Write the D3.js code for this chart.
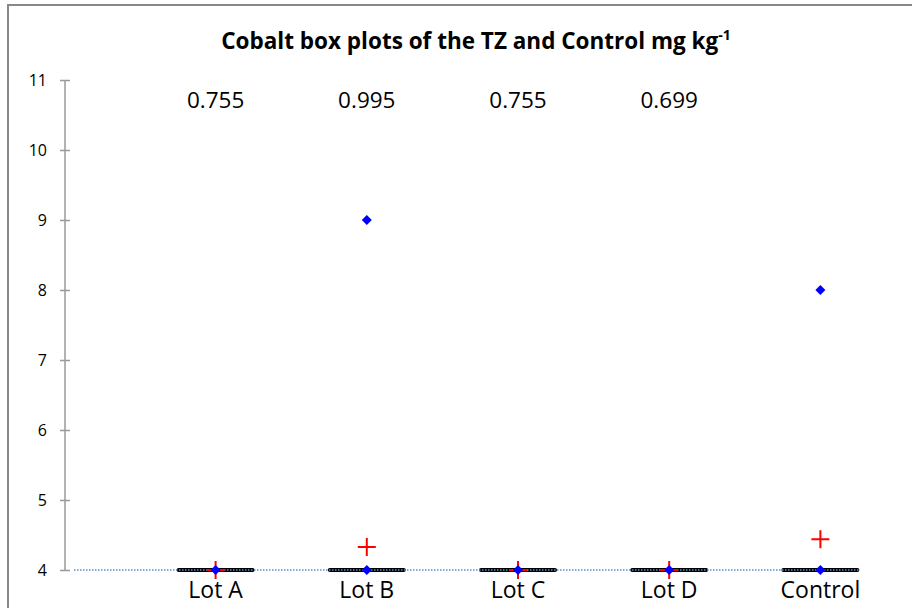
<!DOCTYPE html>
<html><head><meta charset="utf-8">
<script src="https://cdn.jsdelivr.net/npm/d3@7"></script>
<style>body{margin:0;background:#fff}svg{display:block}text{font-family:"Open Sans",sans-serif}</style>
</head><body><svg id="c" width="912" height="608"></svg>
<script>
const categories = ["Lot A","Lot B","Lot C","Lot D","Control"];
const boxMin = [4,4,4,4,4];
const boxQ1 = [4,4,4,4,4];
const boxMedian = [4,4,4,4,4];
const boxQ3 = [4,4,4,4,4];
const boxMax = [4,4,4,4,4];
const means = [4,4.33,4,4,4.44];
const outliers = [[],[9],[],[],[8]];
const topLabels = ["0.755","0.995","0.755","0.699",""];
const yTicks = [4,5,6,7,8,9,10,11];

const svg = d3.select("#c");
svg.append("rect").attr("x",8).attr("y",5).attr("width",920).attr("height",620)
  .attr("fill","none").attr("stroke","#888").attr("stroke-width",2);

const x = d3.scaleBand().domain(categories).range([140,896]);
const y = d3.scaleLinear().domain([4,11]).range([570,80]);
const cx = c => x(c)+x.bandwidth()/2;

// y axis
const ax = svg.append("g").attr("transform","translate(65,0)")
  .call(d3.axisLeft(y).tickValues(yTicks).tickSize(5).tickFormat(d3.format("d")));
ax.select(".domain").attr("stroke","#999").attr("stroke-width",1.5).attr("d","M0,"+y(11)+"V"+y(4));
ax.selectAll(".tick line").attr("stroke","#999").attr("stroke-width",1.5).attr("x1",-5).attr("x2",5);
ax.selectAll(".tick text").attr("x",-18).attr("font-size",16).attr("fill","#000")
  .attr("font-family","Open Sans, sans-serif");

// boxes (collapsed)
const half = 39;
categories.forEach((c,i)=>{
  const g = svg.append("g");
  g.append("rect").attr("x",cx(c)-half).attr("width",2*half)
    .attr("y",y(boxQ3[i])-2).attr("height",Math.max(4,y(boxQ1[i])-y(boxQ3[i])+4))
    .attr("fill","#000").attr("rx",2);
  g.append("line").attr("x1",cx(c)).attr("x2",cx(c)).attr("y1",y(boxMax[i])).attr("y2",y(boxMin[i]))
    .attr("stroke","#000").attr("stroke-width",2);
});

// dotted series line
svg.append("line").attr("x1",74).attr("x2",cx("Control")+half).attr("y1",y(4)).attr("y2",y(4))
  .attr("stroke","#5b8fd0").attr("stroke-width",1.5).attr("stroke-dasharray","1.5,1.5");

// means: red plus
const ps = 9;
categories.forEach((c,i)=>{
  const px = cx(c), py = y(means[i]);
  svg.append("path").attr("d",`M${px-ps},${py}H${px+ps}M${px},${py-ps}V${py+ps}`)
    .attr("stroke","#ff0000").attr("stroke-width",2).attr("fill","none");
});

// medians & outliers: blue diamonds
const diamond = (px,py)=>svg.append("path")
  .attr("d",`M${px},${py-5}L${px+5},${py}L${px},${py+5}L${px-5},${py}Z`).attr("fill","#0000ff");
categories.forEach((c,i)=>{
  diamond(cx(c), y(boxMedian[i]));
  outliers[i].forEach(v=>diamond(cx(c), y(v)));
});

// category labels
svg.selectAll(".cat").data(categories).enter().append("text")
  .attr("x",d=>cx(d)).attr("y",598).attr("text-anchor","middle").attr("font-size",23).text(d=>d);

// top value labels
svg.selectAll(".tl").data(categories).enter().append("text")
  .attr("x",d=>cx(d)).attr("y",108).attr("text-anchor","middle").attr("font-size",22.5)
  .text((d,i)=>topLabels[i]);

// title
const t = svg.append("text").attr("x",476).attr("y",49).attr("text-anchor","middle")
  .attr("font-size",22.5).attr("font-weight","bold");
t.append("tspan").text("Cobalt box plots of the TZ and Control mg kg");
t.append("tspan").attr("dy",-9).attr("font-size",14).text("-1");
</script></body></html>
